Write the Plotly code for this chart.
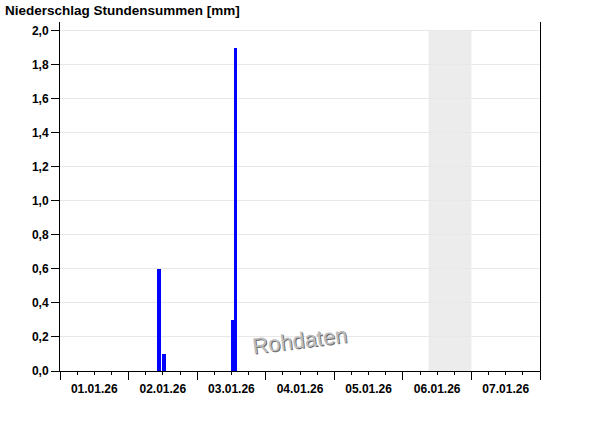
import plotly.graph_objects as go

# ---- data ----
bar_times = ["2026-01-02 10:30", "2026-01-02 12:30", "2026-01-03 12:30", "2026-01-03 13:30"]
bar_values = [0.6, 0.1, 0.3, 1.9]
bar_widths_h = [1.4, 1.4, 1.2, 1.2]

day_ticks = ["2026-01-01", "2026-01-02", "2026-01-03", "2026-01-04", "2026-01-05",
             "2026-01-06", "2026-01-07", "2026-01-08"]
label_ticks = ["2026-01-01 12:00", "2026-01-02 12:00", "2026-01-03 12:00", "2026-01-04 12:00",
               "2026-01-05 12:00", "2026-01-06 12:00", "2026-01-07 12:00"]
label_texts = ["01.01.26", "02.01.26", "03.01.26", "04.01.26", "05.01.26", "06.01.26", "07.01.26"]

shade_start = "2026-01-06 09:00"
shade_end = "2026-01-07 00:00"
shade_top = 2.0

x_range = ["2026-01-01", "2026-01-08"]
y_range = [0, 2.05]

title_text = "Niederschlag Stundensummen [mm]"
watermark = "Rohdaten"

HOUR_MS = 3600 * 1000
FONT = "Liberation Sans, Arial, sans-serif"

fig = go.Figure()
fig.add_trace(go.Bar(
    x=bar_times, y=bar_values,
    width=[w * HOUR_MS for w in bar_widths_h],
    marker=dict(color="#0000ff", line=dict(width=0)),
    xaxis="x", yaxis="y", hoverinfo="x+y",
))
# invisible trace so the label axis is drawn
fig.add_trace(go.Scatter(
    x=x_range, y=[0, 0], mode="lines", line=dict(width=0),
    xaxis="x2", yaxis="y", hoverinfo="skip", showlegend=False,
))

fig.add_shape(type="rect", xref="x", yref="y",
              x0=shade_start, x1=shade_end, y0=0, y1=shade_top,
              fillcolor="#ececec", line=dict(width=0), layer="below")

tickfont = dict(family=FONT, size=12, color="#000000", weight="bold")

fig.update_layout(
    width=600, height=426,
    margin=dict(l=60, r=60, t=22, b=55, pad=0),
    paper_bgcolor="#ffffff", plot_bgcolor="#ffffff",
    showlegend=False,
    separators=",.",
    bargap=0,
    xaxis=dict(
        type="date", range=x_range,
        tickmode="array", tickvals=day_ticks, showticklabels=False,
        ticks="outside", ticklen=8, tickwidth=1, tickcolor="#000000",
        minor=dict(ticks="outside", ticklen=3, tickwidth=1, tickcolor="#000000",
                   dtick=6 * HOUR_MS, tick0="2026-01-01", showgrid=False),
        showline=True, linecolor="#000000", linewidth=1,
        showgrid=False, zeroline=False,
    ),
    xaxis2=dict(
        type="date", overlaying="x", matches="x", anchor="y", side="bottom",
        tickmode="array", tickvals=label_ticks, ticktext=label_texts,
        ticks="outside", ticklen=7, tickcolor="rgba(0,0,0,0)",
        tickfont=tickfont, showline=False, showgrid=False, zeroline=False,
    ),
    yaxis=dict(
        range=y_range, tickmode="linear", tick0=0, dtick=0.2, tickformat=".1f",
        ticks="outside", ticklen=8, tickwidth=1, tickcolor="#000000",
        tickfont=tickfont,
        showline=True, linecolor="#000000", linewidth=1, mirror=True,
        showgrid=True, gridcolor="#e8e8e8", gridwidth=1, zeroline=False,
    ),
    annotations=[
        dict(text=title_text, xref="paper", yref="paper", x=-0.118, y=1.0,
             xanchor="left", yanchor="bottom", yshift=2, showarrow=False,
             font=dict(family=FONT, size=13.5, color="#000000", weight="bold")),
        dict(text=watermark, xref="paper", yref="paper", x=0.499, y=0.029,
             xshift=1, yshift=-1, showarrow=False, textangle=-7,
             font=dict(family=FONT, size=22, color="#6a6a6a")),
        dict(text=watermark, xref="paper", yref="paper", x=0.499, y=0.029,
             showarrow=False, textangle=-7,
             font=dict(family=FONT, size=22, color="#bdbdbd")),
    ],
)

fig.write_html("out.html", config={"displayModeBar": False},
               post_script="document.body.style.margin='0';document.body.style.padding='0';")
